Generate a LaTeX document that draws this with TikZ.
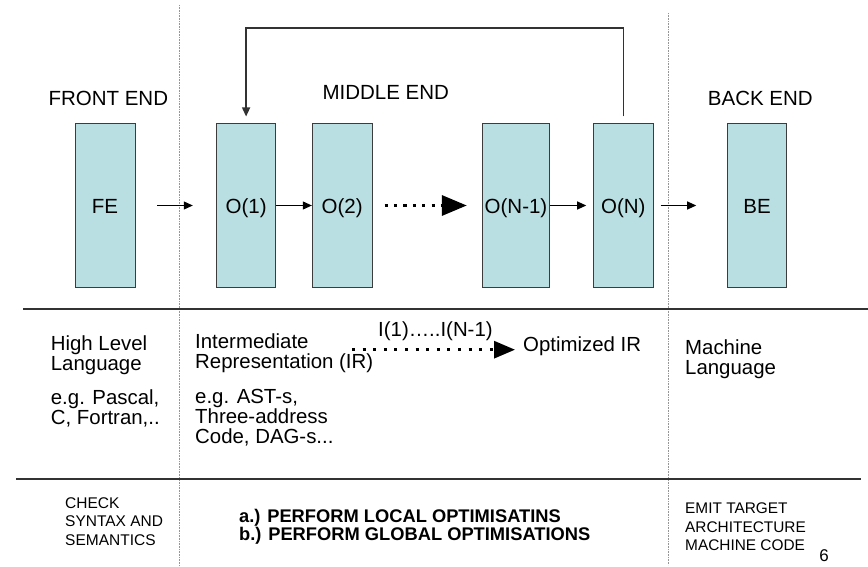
\documentclass[tikz,border=0pt]{standalone}
\usepackage{fontspec}
\setmainfont{Liberation Sans}
\usetikzlibrary{arrows.meta}
\definecolor{boxfill}{RGB}{185,223,227}
\definecolor{boxedge}{RGB}{60,60,60}
\definecolor{lineclr}{RGB}{50,50,50}
\definecolor{sepclr}{RGB}{150,150,150}
\lineskiplimit=-20pt
\begin{document}
\begin{tikzpicture}[x=1pt,y=-1pt,
  stage/.style={draw=boxedge, line width=1pt, fill=boxfill, minimum height=163pt,
    inner sep=0pt, text height=17pt, text depth=0pt, font=\fontsize{20.5}{22}\selectfont},
  head/.style={anchor=base west, inner sep=0pt, font=\fontsize{20.5}{22}\selectfont},
  body/.style={anchor=base west, inner sep=0pt, font=\fontsize{20.4}{20}\selectfont},
  small/.style={anchor=base west, inner sep=0pt, font=\fontsize{15.5}{18.5}\selectfont},
  boldtxt/.style={anchor=base west, inner sep=0pt, font=\fontsize{18.3}{17.3}\selectfont\bfseries},
  arr/.style={-{Triangle[length=9pt,width=8pt]}, line width=1pt, draw=black},
  dotarr/.style={line width=3.3pt, line cap=butt, dash pattern=on 3.3pt off 6.1pt,
    -{Triangle[length=25pt,width=20pt]}},
  sep/.style={draw=sepclr, line width=0.8pt, dash pattern=on 0.8pt off 0.8pt},
  rule/.style={draw=lineclr, line width=1.3pt}
]
\useasboundingbox (0,0) rectangle (868,567);

% separators
\coordinate (s1t) at (179,5);   \coordinate (s1b) at (179,567);
\coordinate (s2t) at (668,13);  \coordinate (s2b) at (668,565);
\coordinate (h1l) at (23,309);  \coordinate (h1r) at (868,309);
\coordinate (h2l) at (16,479);  \coordinate (h2r) at (861,479);
\draw[sep] (s1t) -- (s1b);
\draw[sep] (s2t) -- (s2b);
\draw[rule] (h1l) -- (h1r);
\draw[rule] (h2l) -- (h2r);

% headings
\node[head] (fehead) at (48.3,106) {FRONT END};
\node[head] (mehead) at (322.3,100) {MIDDLE END};
\node[head] (behead) at (707.7,106) {BACK END};

% stages
\node[stage, minimum width=60pt]   (fe)  at (105,205.5)   {FE};
\node[stage, minimum width=59.2pt] (o1)  at (246.1,205.5) {O(1)};
\node[stage, minimum width=59.7pt] (o2)  at (342.2,205.5) {O(2)};
\node[stage, minimum width=67.4pt] (on1) at (516,205.5)   {O(N-1)};
\node[stage, minimum width=60pt]   (on)  at (623.3,205.5) {O(N)};
\node[stage, minimum width=59.4pt] (be)  at (757,205.5)   {BE};

% connectors
\draw[arr, shorten <=21.7pt, shorten >=23.2pt] (fe.east) -- (o1.west);
\draw[arr] (o1.east) -- (o2.west);
\draw[dotarr, shorten <=12pt, shorten >=15pt] (o2.east) -- (on1.west);
\draw[arr, shorten >=6.6pt] (on1.east) -- (on.west);
\draw[arr, shorten <=6.7pt, shorten >=30.6pt] (on.east) -- (be.west);

\coordinate (fb) at (0,28);
\draw[lineclr, line width=1.3pt, -{Triangle[length=9pt,width=8pt]}]
  ([yshift=7pt]on.north) -- (on.north |- fb) -- (o1.north |- fb) -- ([yshift=7pt]o1.north);

% middle row
\node[body] (hll) at (50.7,350.7) {\vtop{\hbox{High Level}\hbox{Language}}};
\node[body] (egp) at (50.7,404) {\vtop{\hbox{e.g. Pascal,}\hbox{C, Fortran,..}}};
\node[body] (ir)  at (195,348.3) {\vtop{\hbox{Intermediate}\hbox{Representation (IR)}}};
\node[body] (egast) at (195,403.3) {\vtop{\hbox{e.g. AST-s,}\hbox{Three-address}\hbox{Code, DAG-s...}}};
\node[body] (iseq) at (378,336) {I(1)…..I(N-1)};
\coordinate (ds) at (352,349.7);
\coordinate (de) at (515,349.7);
\draw[line width=3pt, line cap=butt, dash pattern=on 3pt off 7.6pt,
  -{Triangle[length=21pt,width=17pt]}] (ds) -- (de);
\node[body] (oir) at (523,351) {Optimized IR};
\node[body] (ml) at (685,354.5) {\vtop{\hbox{Machine}\hbox{Language}}};

% bottom row
\node[small] (chk) at (65,508.3) {\vtop{\hbox{CHECK}\hbox{SYNTAX AND}\hbox{SEMANTICS}}};
\node[boldtxt] (opt) at (239,522.7) {\vtop{\hbox{a.) PERFORM LOCAL OPTIMISATINS}\hbox{b.) PERFORM GLOBAL OPTIMISATIONS}}};
\node[small, font=\fontsize{15.4}{18.8}\selectfont] (emit) at (685,513.3) {\vtop{\hbox{EMIT TARGET}\hbox{ARCHITECTURE}\hbox{MACHINE CODE}}};
\node[anchor=base, inner sep=0pt, font=\fontsize{17}{18}\selectfont] (pg) at (824,561.7) {6};
\end{tikzpicture}
\end{document}
